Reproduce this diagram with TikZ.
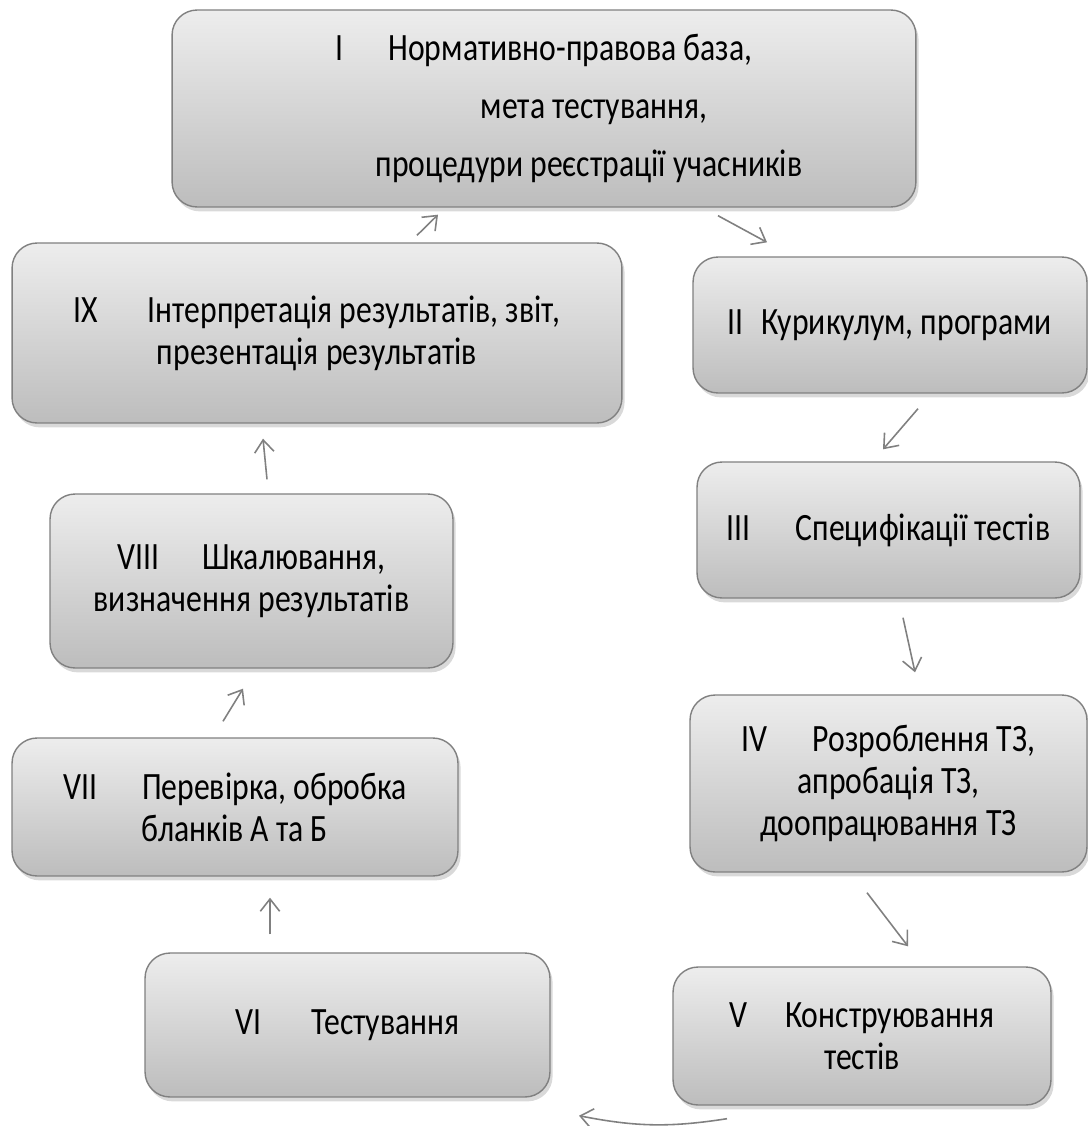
\documentclass[tikz,border=0pt]{standalone}
\usepackage{fontspec}
\setmainfont{Carlito}[FakeStretch=0.82]
\usetikzlibrary{arrows.meta,calc,shadows}

\begin{document}
\begin{tikzpicture}[x=0.02cm, y=-0.02cm,
  stage/.style={draw=black!50, line width=0.8pt, rounded corners=0.5cm,
    top color=black!7, bottom color=black!26,
    drop shadow={shadow xshift=1.5pt, shadow yshift=-2.5pt, opacity=0.3},
    align=center, inner sep=0pt, font=\fontsize{22pt}{24pt}\selectfont},
  flow/.style={draw=black!50, line width=0.9pt, -{Straight Barb[length=7pt, width=11pt]}}]
\useasboundingbox (0,0) rectangle (1088,1126);

% Етапи
\node[stage, minimum width=14.88cm, minimum height=3.94cm] (I) at (544,108.5)
  {I\hspace{0.9cm}Нормативно-правова база,\\[9pt]
   \hspace*{2cm}мета тестування,\\[9pt]
   \hspace*{1.8cm}процедури реєстрації учасників};
\node[stage, minimum width=7.88cm, minimum height=2.72cm] (II) at (890,325)
  {II\hspace{0.35cm}Курикулум, програми};
\node[stage, minimum width=7.66cm, minimum height=2.72cm] (III) at (888.5,530)
  {III\hspace{0.9cm}Специфікації тестів};
\node[stage, minimum width=7.94cm, minimum height=3.54cm] (IV) at (888.5,783.5)
  {IV\hspace{0.9cm}Розроблення ТЗ,\\ апробація ТЗ,\\ доопрацювання ТЗ};
\node[stage, minimum width=7.56cm, minimum height=2.76cm] (V) at (862,1036)
  {V\hspace{0.75cm}Конструювання\\ тестів};
\node[stage, minimum width=8.1cm, minimum height=2.88cm] (VI) at (347.5,1025)
  {VI\hspace{1cm}Тестування};
\node[stage, minimum width=8.92cm, minimum height=2.76cm] (VII) at (235,807)
  {VII\hspace{0.9cm}Перевірка, обробка\\ бланків А та Б};
\node[stage, minimum width=8.06cm, minimum height=3.48cm] (VIII) at (251.5,581)
  {VIII\hspace{0.85cm}Шкалювання,\\ визначення результатів};
\node[stage, minimum width=12.2cm, minimum height=3.6cm] (IX) at (317,333)
  {IX\hspace{1cm}Інтерпретація результатів, звіт,\\ презентація результатів};

% Переходи
\draw[flow] ($(I.south)+(174,8)$) -- ($(II.north)+(-123,-14)$);
\draw[flow] ($(II.south)+(28,15)$) -- ($(III.north)+(-5.5,-12)$);
\draw[flow] ($(III.south)+(14.5,19)$) -- ($(IV.north)+(26.5,-22)$);
\draw[flow] ($(IV.south)+(-21.5,20)$) -- ($(V.north)+(46,-20)$);
\draw[flow] ($(V.south)+(-135,13)$) to[bend left=10] ($(VI.south)+(231.5,18)$);
\draw[flow] ($(VI.north)+(-77.5,-18)$) -- ($(VII.south)+(35,21)$);
\draw[flow] ($(VII.north)+(-12,-16)$) -- ($(VIII.south)+(-8.5,20)$);
\draw[flow] ($(VIII.north)+(15.5,-14)$) -- ($(IX.south)+(-54,15)$);
\draw[flow] ($(IX.north)+(100,-7)$) -- ($(I.south)+(-106,7)$);
\end{tikzpicture}
\end{document}
